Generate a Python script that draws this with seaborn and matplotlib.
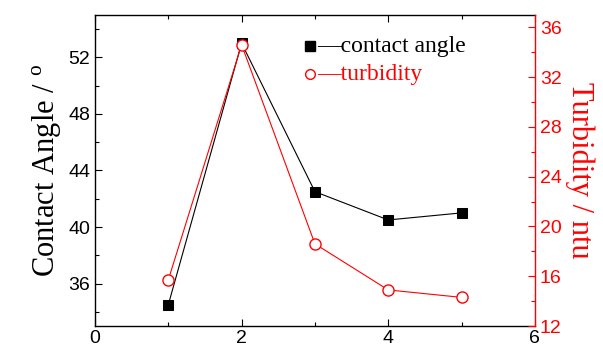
import matplotlib
matplotlib.use("Agg")
import matplotlib.pyplot as plt
from matplotlib.ticker import MultipleLocator
import seaborn as sns
import pandas as pd

# Samples along the x axis
samples = [1, 2, 3, 4, 5]
# Contact angle (degrees), left axis
contact_angle = [34.5, 53.0, 42.5, 40.5, 41.0]
# Turbidity (ntu), right axis
turbidity = [15.7, 34.6, 18.6, 14.9, 14.3]

df = pd.DataFrame({"x": samples, "angle": contact_angle, "turb": turbidity})

sns.set_style("ticks", {"axes.edgecolor": "black", "xtick.color": "black",
                        "ytick.color": "black", "text.color": "black",
                        "axes.labelcolor": "black"})
plt.rcParams["font.family"] = ["Liberation Sans", "DejaVu Sans"]
plt.rcParams["mathtext.fontset"] = "custom"
plt.rcParams["mathtext.rm"] = "Liberation Serif"

fig = plt.figure(figsize=(6.03, 3.47), dpi=100)
ax = fig.add_axes([0.1575, 0.0605, 0.7295, 0.8965])
ax2 = ax.twinx()

sns.lineplot(data=df, x="x", y="angle", ax=ax, color="black", marker="s",
             markersize=7, markeredgecolor="black", linewidth=0.8)
sns.lineplot(data=df, x="x", y="turb", ax=ax2, color="red", marker="o",
             markersize=8, markerfacecolor="white", markeredgecolor="red",
             markeredgewidth=1.0, linewidth=0.8)

ax.set_xlim(0, 6)
ax.set_ylim(33, 55)
ax2.set_ylim(12, 37)

ax.xaxis.set_major_locator(MultipleLocator(2))
ax.xaxis.set_minor_locator(MultipleLocator(1))
ax.yaxis.set_major_locator(MultipleLocator(4))
ax.yaxis.set_minor_locator(MultipleLocator(2))
ax2.yaxis.set_major_locator(MultipleLocator(4))
ax2.yaxis.set_minor_locator(MultipleLocator(2))

ax.set_xlabel("")
ax.set_ylabel(r"Contact Angle / $^{\mathrm{o}}$", family="Liberation Serif",
              fontsize=22, labelpad=3, color="black")
ax2.set_ylabel("Turbidity / ntu", family="Liberation Serif", fontsize=22,
               color="red", rotation=270, labelpad=24)

ax.tick_params(axis="both", which="both", direction="in", labelsize=14,
               top=True, right=False, width=0.8, colors="black")
ax.tick_params(axis="both", which="major", length=5)
ax.tick_params(axis="both", which="minor", length=3)
ax.tick_params(axis="x", pad=3)
ax2.tick_params(axis="y", which="both", direction="in", colors="red",
                labelsize=14, width=0.8)
ax2.tick_params(axis="y", which="major", length=5)
ax2.tick_params(axis="y", which="minor", length=3)

for sp in ["left", "bottom", "top"]:
    ax.spines[sp].set_color("black")
    ax.spines[sp].set_linewidth(1.0)
ax.spines["right"].set_visible(False)
ax2.spines["right"].set_color("red")
ax2.spines["right"].set_linewidth(1.0)
for sp in ["left", "bottom", "top"]:
    ax2.spines[sp].set_visible(False)

# Legend entries: marker, short dash, label
ax.plot([0.489], [0.90], transform=ax.transAxes, marker="s", color="black",
        markersize=7, linestyle="none", clip_on=False)
ax.text(0.506, 0.90, "\u2014contact angle", transform=ax.transAxes,
        family="Liberation Serif", fontsize=17, va="center", ha="left",
        color="black")
ax2.plot([0.489], [0.81], transform=ax2.transAxes, marker="o", color="red",
         markerfacecolor="white", markersize=7, linestyle="none",
         clip_on=False)
ax2.text(0.506, 0.81, "\u2014turbidity", transform=ax2.transAxes,
         family="Liberation Serif", fontsize=17, va="center", ha="left",
         color="red")

fig.savefig("out.png", dpi=100)
